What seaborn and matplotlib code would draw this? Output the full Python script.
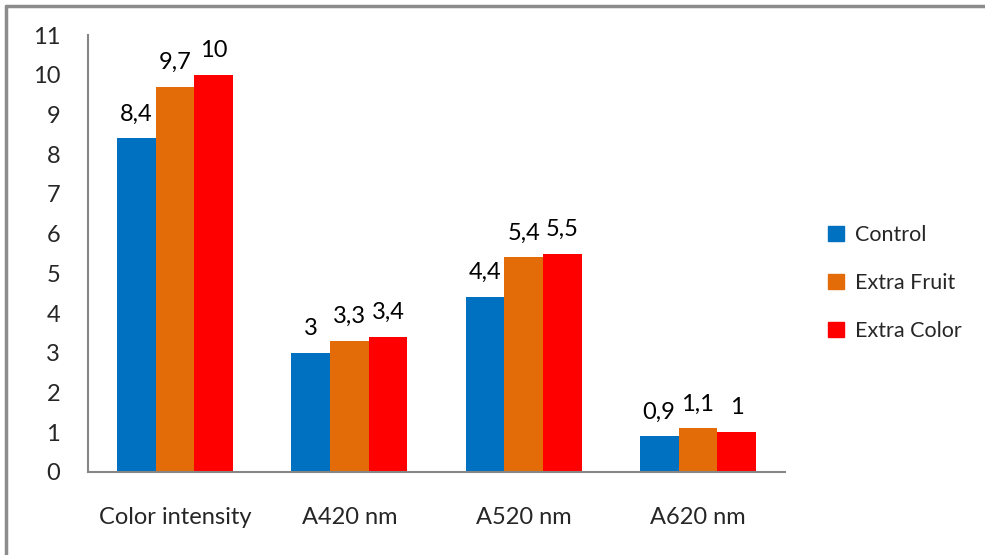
import matplotlib
matplotlib.use("Agg")
import matplotlib.pyplot as plt
import seaborn as sns
import pandas as pd
from matplotlib.lines import Line2D
from matplotlib.patches import Patch

categories = ["Color intensity", "A420 nm", "A520 nm", "A620 nm"]
series = ["Control", "Extra Fruit", "Extra Color"]
control = [8.4, 3.0, 4.4, 0.9]
extra_fruit = [9.7, 3.3, 5.4, 1.1]
extra_color = [10.0, 3.4, 5.5, 1.0]
colors = ["#0070C0", "#E36C09", "#FF0000"]
yticks = list(range(0, 12))

rows = []
for s, vals in zip(series, [control, extra_fruit, extra_color]):
    for c, v in zip(categories, vals):
        rows.append({"cat": c, "series": s, "val": v})
df = pd.DataFrame(rows)

sns.set_style("white")
plt.rcParams["font.family"] = ["Lato", "DejaVu Sans"]

FS = 17

fig = plt.figure(figsize=(9.85, 5.55), dpi=100)
ax = fig.add_axes([88/985, 1-472/555, (785-88)/985, (472-35)/555])

sns.barplot(data=df, x="cat", y="val", hue="series", palette=colors,
            order=categories, hue_order=series, width=0.667, ax=ax,
            saturation=1, errorbar=None, legend=False, linewidth=0)

def fmt(v):
    return ("%g" % v).replace(".", ",")

for cont in ax.containers:
    ax.bar_label(cont, labels=[fmt(b.get_height()) for b in cont],
                 padding=10, fontsize=FS, color="#000000")

ax.set_ylim(0, 11)
ax.set_yticks(yticks)
ax.set_yticklabels([str(t) for t in yticks], fontsize=FS)
ax.set_xlim(-0.5, 3.5)
ax.set_xlabel("")
ax.set_ylabel("")
ax.tick_params(axis="y", length=0, pad=20)
ax.tick_params(axis="x", length=0, pad=25, labelsize=FS)
for sp in ["top", "right"]:
    ax.spines[sp].set_visible(False)
for sp in ["left", "bottom"]:
    ax.spines[sp].set_color("#868686")
    ax.spines[sp].set_linewidth(1.5)

handles = [Patch(facecolor=c, edgecolor=c) for c in colors]
fig.legend(handles, series, loc="center left", bbox_to_anchor=(828/985, 1-283/555),
           frameon=False, fontsize=15.5, handlelength=0.75, handleheight=0.75,
           handletextpad=0.5, labelspacing=1.3, borderaxespad=0, borderpad=0)

# outer chart frame (left and top visible)
fig.add_artist(Line2D([6/985, 6/985], [0, 1-6/555], transform=fig.transFigure,
                      color="#8c8c8c", lw=2.5))
fig.add_artist(Line2D([6/985, 1], [1-6/555, 1-6/555], transform=fig.transFigure,
                      color="#8c8c8c", lw=2.5))

fig.savefig("out.png", dpi=100)
